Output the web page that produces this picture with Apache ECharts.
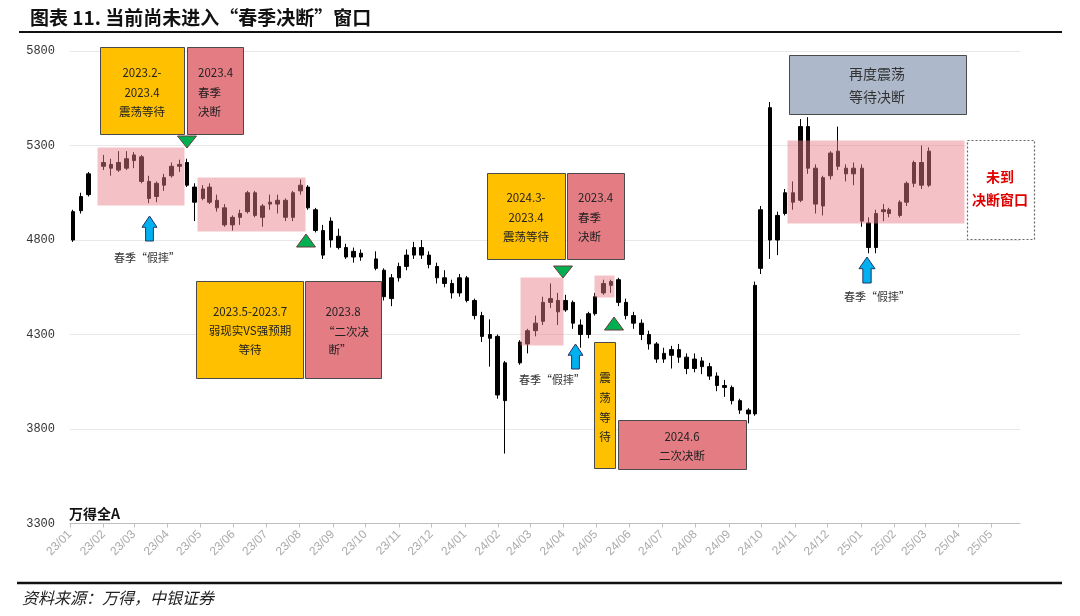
<!DOCTYPE html>
<html><head><meta charset="utf-8">
<script src="https://cdn.jsdelivr.net/npm/echarts@6/dist/echarts.min.js"></script>
<style>html,body{margin:0;padding:0;background:#fff}#c{width:1080px;height:616px}</style>
</head><body><div id="c"></div>
<script>
// ---- data (weekly OHLC of 万得全A) ----
const weekDates = [
'2023-01-04','2023-01-11','2023-01-18','2023-02-01','2023-02-08','2023-02-15','2023-02-22','2023-03-01','2023-03-08','2023-03-15','2023-03-22','2023-03-29','2023-04-05','2023-04-12','2023-04-19','2023-04-26','2023-05-04','2023-05-10','2023-05-17','2023-05-24','2023-05-31','2023-06-07','2023-06-14','2023-06-21','2023-06-28','2023-07-05','2023-07-12','2023-07-19','2023-07-26','2023-08-02','2023-08-09','2023-08-16','2023-08-23','2023-08-30','2023-09-06','2023-09-13','2023-09-20','2023-09-27','2023-10-11','2023-10-18','2023-10-25','2023-11-01','2023-11-08','2023-11-15','2023-11-22','2023-11-29','2023-12-06','2023-12-13','2023-12-20','2023-12-27',
'2024-01-03','2024-01-10','2024-01-17','2024-01-24','2024-01-31','2024-02-07','2024-02-21','2024-02-28','2024-03-06','2024-03-13','2024-03-20','2024-03-27','2024-04-03','2024-04-10','2024-04-17','2024-04-24','2024-04-30','2024-05-08','2024-05-15','2024-05-22','2024-05-29','2024-06-05','2024-06-12','2024-06-19','2024-06-26','2024-07-03','2024-07-10','2024-07-17','2024-07-24','2024-07-31','2024-08-07','2024-08-14','2024-08-21','2024-08-28','2024-09-04','2024-09-11','2024-09-19','2024-09-25','2024-09-30','2024-10-09','2024-10-16','2024-10-23','2024-10-30','2024-11-06','2024-11-13','2024-11-20','2024-11-27','2024-12-04','2024-12-11','2024-12-18','2024-12-25',
'2025-01-02','2025-01-08','2025-01-15','2025-01-22','2025-01-27','2025-02-06','2025-02-12','2025-02-19','2025-02-26','2025-03-05'];
const openVals = [
4800,4955,5040,5210,5180,5210,5180,5220,5240,5110,5030,5090,5140,5190,5210,5080,5020,5080,5010,4970,4880,4920,4950,5050,4920,4990,4990,5010,4920,5060,5080,4960,4850,4900,4820,4760,4710,4730,4700,4640,4490,4600,4660,4720,4760,4720,4660,4600,4570,4520,
4600,4480,4400,4280,4290,3950,4150,4250,4320,4370,4470,4480,4430,4470,4350,4300,4410,4520,4560,4590,4470,4400,4360,4300,4250,4170,4190,4220,4180,4120,4160,4130,4080,4030,4020,3950,3900,3880,4650,5500,4800,4940,5050,5010,5400,5180,4980,5140,5270,5180,5150,
5180,4890,4760,4950,4960,4930,5000,5100,5210,5090];
const closeVals = [
4950,5030,5150,5190,5200,5170,5230,5250,5110,5020,5100,5130,5190,5200,5090,5000,5070,5000,4970,4880,4920,4940,5050,4930,4980,5000,5010,4920,5050,5090,4970,4850,4720,4800,4760,4710,4740,4710,4650,4500,4600,4660,4720,4760,4720,4670,4600,4570,4520,4600,
4480,4400,4290,4300,3980,4150,4260,4320,4360,4470,4490,4420,4480,4360,4300,4410,4500,4570,4580,4470,4400,4360,4300,4250,4170,4200,4220,4180,4120,4170,4130,4080,4030,4020,3950,3900,3880,4560,4960,4800,4930,5050,5000,5400,5180,4990,5130,5260,5190,5150,5180,
4900,4760,4940,4960,4940,5000,5100,5210,5090,5270];
const lowVals = [
4790,4940,5030,5170,5140,5160,5170,5180,5100,4995,5000,5060,5130,5160,5080,4900,5010,4990,4950,4870,4850,4880,4940,4920,4870,4960,4940,4900,4900,5040,4960,4840,4700,4760,4750,4700,4680,4690,4640,4480,4450,4580,4640,4700,4700,4650,4570,4550,4490,4500,
4470,4380,4260,4130,3960,3670,4140,4200,4290,4350,4440,4350,4420,4330,4230,4280,4400,4510,4520,4450,4380,4330,4270,4220,4150,4150,4120,4150,4090,4100,4090,4060,4000,3970,3930,3880,3830,3870,4620,4700,4720,4930,4960,5000,5150,4940,4930,5120,5170,5110,5090,
4870,4730,4730,4900,4920,4920,4980,5080,5070,5080];
const highVals = [
4960,5050,5160,5250,5230,5270,5270,5265,5250,5140,5110,5150,5210,5225,5230,5100,5090,5100,5040,4990,4930,4960,5060,5060,4990,5040,5040,5020,5060,5120,5090,4970,4880,4920,4860,4780,4760,4750,4740,4650,4620,4680,4750,4790,4800,4740,4680,4640,4590,4620,
4610,4490,4420,4380,4300,4160,4270,4330,4400,4500,4570,4520,4510,4480,4380,4420,4520,4590,4590,4600,4490,4420,4380,4320,4260,4230,4240,4250,4200,4200,4180,4150,4100,4060,4030,3960,3910,4580,4980,5530,4950,5070,5110,5440,5450,5200,5140,5270,5400,5200,5210,
5200,4920,4960,4990,4970,5010,5110,5220,5300,5290];
const monthLabels = ['23/01','23/02','23/03','23/04','23/05','23/06','23/07','23/08','23/09','23/10','23/11','23/12',
'24/01','24/02','24/03','24/04','24/05','24/06','24/07','24/08','24/09','24/10','24/11','24/12',
'25/01','25/02','25/03','25/04','25/05'];
const yTicks = [3300, 3800, 4300, 4800, 5300, 5800];

// ---- build ----
function ts(s){const p=s.split('-').map(Number);return Date.UTC(p[0],p[1]-1,p[2]);}
const candleData = weekDates.map((d,i)=>[ts(d),openVals[i],closeVals[i],lowVals[i],highVals[i]]);
const monthTs = monthLabels.map(l=>Date.UTC(2000+Number(l.slice(0,2)),Number(l.slice(3))-1,1));
const labelOf = {}; monthTs.forEach((t,i)=>labelOf[t]=monthLabels[i]);

const CJK = '"Noto Sans CJK SC","Noto Sans",sans-serif';
const G = [];
function rect(x,y,w,h,fill,stroke,extra){G.push({type:'rect',z:20,silent:true,shape:{x:x+0.5,y:y+0.5,width:w,height:h},style:Object.assign({fill:fill,stroke:stroke||null,lineWidth:1},extra||{})});}
function txt(x,y,text,font,fill,align){G.push({type:'text',z:22,silent:true,x:x,y:y,style:{text:text,font:font,fill:fill,align:align||'center',verticalAlign:'middle',textAlign:align||'center',textVerticalAlign:'middle'}});}
function lines(x,y0,dy,arr,font,fill,align){arr.forEach((t,i)=>txt(x,y0+i*dy,t,font,fill,align));}
function poly(points,fill,stroke){G.push({type:'polygon',z:21,silent:true,shape:{points:points},style:{fill:fill,stroke:stroke,lineWidth:1}});}
function triDown(cx,y0,y1){poly([[cx-9.5,y0],[cx+9.5,y0],[cx,y1]],'#00b050','#6b3b3b');}
function triUp(cx,y0,y1){poly([[cx,y0],[cx+9.5,y1],[cx-9.5,y1]],'#00b050','#6b3b3b');}
function arrowUp(x,y,w,h){poly([[x+w/2,y],[x+w,y+h*0.45],[x+w*0.76,y+h*0.45],[x+w*0.76,y+h],[x+w*0.24,y+h],[x+w*0.24,y+h*0.45],[x,y+h*0.45]],'#00b0f0','#203864');}

const YEL='#ffc000', RED='#e47c84', SLATE='#adb9ca', BRD='#4a4a4a', PINK='rgba(229,125,135,0.48)';
const F11 = '11.5px '+CJK, F14 = '14px '+CJK;

// title & frame
txt(30,18,'图表 11. 当前尚未进入“春季决断”窗口','bold 19px '+CJK,'#111','left');
G.push({type:'line',z:20,silent:true,shape:{x1:19,y1:32,x2:1062,y2:32},style:{stroke:'#111',lineWidth:2}});
G.push({type:'line',z:20,silent:true,shape:{x1:17,y1:583,x2:1062,y2:583},style:{stroke:'#111',lineWidth:2.5}});
txt(22,598,'资料来源：万得，中银证券','italic 16px '+CJK,'#222','left');
txt(69,514,'万得全A','bold 14px '+CJK,'#111','left');

// pink range overlays
rect(97,147,87,58,PINK);
rect(197,177,108,54,PINK);
rect(520,277,43,68,PINK);
rect(594,275,20,22,PINK);
rect(787,140,177,83,PINK);

// text boxes
rect(100,47,84,87,YEL,BRD); lines(142,73,19.5,['2023.2-','2023.4','震荡等待'],F11,'#222');
rect(187,47,56,87,RED,BRD); lines(198,73,19.5,['2023.4','春季','决断'],F11,'#222','left');
rect(196,281,107,97,YEL,BRD); lines(250,312,19,['2023.5-2023.7','弱现实VS强预期','等待'],F11,'#222');
rect(305,281,76,97,RED,BRD); txt(343,312,'2023.8',F11,'#222'); txt(346,332,'“二次决',F11,'#222'); txt(340,350,'断”',F11,'#222');
rect(487,173,78,86,YEL,BRD); lines(526,198,19.5,['2024.3-','2023.4','震荡等待'],F11,'#222');
rect(567,173,57,86,RED,BRD); lines(578,198,19.5,['2023.4','春季','决断'],F11,'#222','left');
rect(594,342,21,126,YEL,BRD); lines(605,378,19.7,['震','荡','等','待'],F11,'#222');
rect(618,420,128,49,RED,BRD); lines(682,437,19,['2024.6','二次决断'],F11,'#222');
rect(789,55,177,59,SLATE,BRD); lines(877,74,23,['再度震荡','等待决断'],F14,'#333');
rect(967,140,67,99,'#fff','#666',{lineDash:[2,2],lineWidth:1.2}); lines(1000,177,23,['未到','决断窗口'],'bold 14px '+CJK,'#e00000');

// markers
triDown(187,136,148); triUp(306,234,247); triDown(563,266,278); triUp(614,317,330);
arrowUp(142,216,15,25); arrowUp(568,344,15,25); arrowUp(859,257,16,26);
txt(147,258,'春季“假摔”','11px '+CJK,'#333');
txt(552,380,'春季“假摔”','11px '+CJK,'#333');
txt(877,297,'春季“假摔”','11px '+CJK,'#333');

const chart = echarts.init(document.getElementById('c'), null, {renderer:'canvas'});
chart.setOption({
  animation:false,
  backgroundColor:'#fff',
  grid:{left:70,right:60,top:51,bottom:92.5},
  xAxis:{
    type:'value', min:ts('2023-01-01'), max:ts('2025-05-28'),
    axisLine:{show:true,lineStyle:{color:'#bfbfbf',width:1}},
    axisTick:{show:true,length:4,lineStyle:{color:'#bfbfbf'},customValues:monthTs},
    axisLabel:{customValues:monthTs,rotate:45,color:'#ababab',fontSize:12,fontFamily:'"Liberation Sans",Arial,sans-serif',margin:9,
      formatter:function(v){return labelOf[v]||'';}},
    splitLine:{show:false}
  },
  yAxis:{
    type:'value', min:yTicks[0], max:yTicks[yTicks.length-1], interval:yTicks[1]-yTicks[0],
    axisLine:{show:false}, axisTick:{show:false},
    axisLabel:{color:'#333',fontSize:12,fontFamily:'"Liberation Mono","DejaVu Sans Mono",monospace',margin:15,
      formatter:function(v){return String(v);}},
    splitLine:{show:true,lineStyle:{color:'#e8e8e8',width:1}}
  },
  series:[{
    type:'candlestick', data:candleData, encode:{x:0,y:[1,2,3,4]}, barWidth:4, silent:true,
    itemStyle:{color:'#000000',color0:'#000000',borderColor:'#000000',borderColor0:'#000000',borderWidth:1}
  }],
  graphic:{elements:G}
});
</script></body></html>
